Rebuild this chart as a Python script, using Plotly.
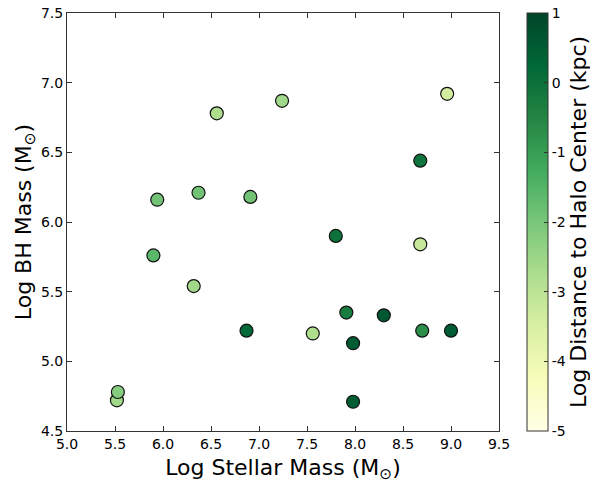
import plotly.graph_objects as go

stellar_mass = [5.52, 5.53, 5.90, 5.94, 6.32, 6.37, 6.56, 6.87, 6.91, 7.24, 7.56,
                7.80, 7.91, 7.98, 7.98, 8.30, 8.68, 8.68, 8.70, 8.96, 9.00]
bh_mass = [4.72, 4.78, 5.76, 6.16, 5.54, 6.21, 6.78, 5.22, 6.18, 6.87, 5.20,
           5.90, 5.35, 5.13, 4.71, 5.33, 5.84, 6.44, 5.22, 6.92, 5.22]
log_dist = [-2.6, -2.2, -1.6, -1.9, -2.6, -1.9, -2.8, 0.2, -1.9, -2.6, -2.8,
            0.0, -0.3, 0.5, 0.5, 0.6, -3.2, -0.1, -0.7, -3.4, 0.5]

x_ticks = [5.0, 5.5, 6.0, 6.5, 7.0, 7.5, 8.0, 8.5, 9.0, 9.5]
y_ticks = [4.5, 5.0, 5.5, 6.0, 6.5, 7.0, 7.5]
cbar_ticks = [-5, -4, -3, -2, -1, 0, 1]

ylgn = [
    [0.0, "#ffffe5"], [0.125, "#f7fcb9"], [0.25, "#d9f0a3"], [0.375, "#addd8e"],
    [0.5, "#78c679"], [0.625, "#41ab5d"], [0.75, "#238443"], [0.875, "#006837"],
    [1.0, "#004529"],
]

font = "DejaVu Sans"
title_size = 22

fig = go.Figure(go.Scatter(
    x=stellar_mass, y=bh_mass, mode="markers",
    marker=dict(
        size=13, color=log_dist, colorscale=ylgn, cmin=-5, cmax=1,
        line=dict(color="#111111", width=1.2),
        colorbar=dict(
            x=1.0648, xanchor="left", xref="paper", y=0.5, yanchor="middle",
            len=1.0, lenmode="fraction", thickness=21, thicknessmode="pixels",
            xpad=0, ypad=0,
            outlinecolor="#333333", outlinewidth=1,
            tickvals=cbar_ticks, ticktext=[str(v) for v in cbar_ticks],
            ticks="inside", ticklen=4, tickcolor="#333333",
            tickfont=dict(family=font, size=14, color="black"),
        ),
    ),
    showlegend=False,
))

fig.add_annotation(
    text="Log Distance to Halo Center (kpc)", textangle=-90,
    xref="paper", yref="paper", x=1.1829, y=0.5,
    xanchor="center", yanchor="middle", showarrow=False,
    font=dict(family=font, size=title_size, color="black"),
)

axis_common = dict(
    showline=True, linecolor="#333333", linewidth=1, mirror="ticks",
    ticks="inside", ticklen=5, tickcolor="#333333", showgrid=False, zeroline=False,
    automargin=False,
    tickfont=dict(family=font, size=14, color="black"),
)

fig.update_xaxes(range=[5.0, 9.5], tickvals=x_ticks,
                 ticktext=[f"{v:.1f}" for v in x_ticks],
                 title=dict(text="Log Stellar Mass (M<sub>⊙</sub>)",
                            font=dict(family=font, size=title_size, color="black"), standoff=8),
                 **axis_common)
fig.update_yaxes(range=[4.5, 7.5], tickvals=y_ticks,
                 ticktext=[f"{v:.1f}" for v in y_ticks],
                 title=dict(text="Log BH Mass (M<sub>⊙</sub>)",
                            font=dict(family=font, size=title_size, color="black"), standoff=3),
                 **axis_common)

fig.update_layout(
    width=590, height=485,
    margin=dict(l=67, r=91, t=13, b=54, autoexpand=False),
    plot_bgcolor="white", paper_bgcolor="white",
    font=dict(family=font, color="black"),
)

fig.write_html("out.html",
               config={"displayModeBar": False},
               post_script="document.body.style.margin='0';document.body.style.overflow='hidden';")
